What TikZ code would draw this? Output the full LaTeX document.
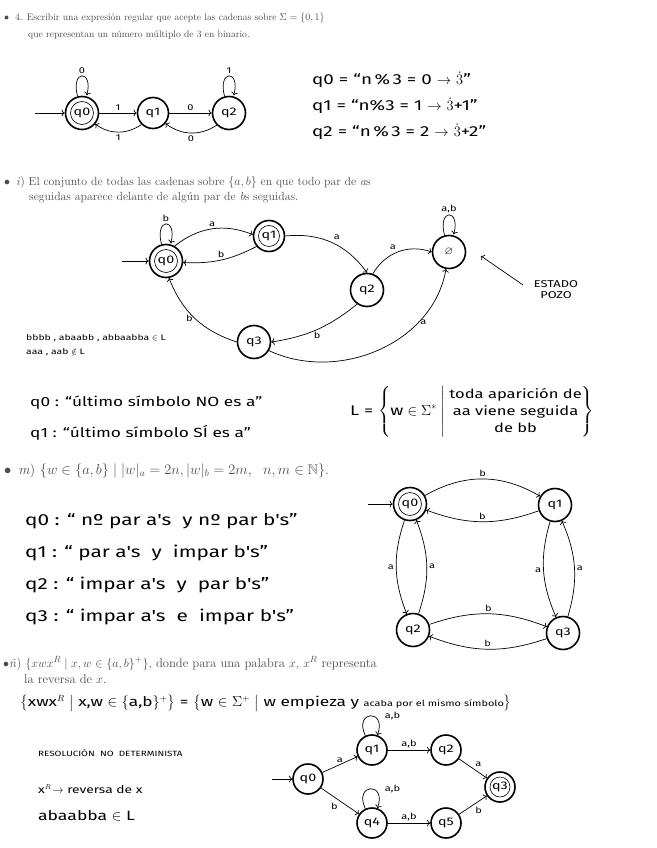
\documentclass[tikz,border=0pt]{standalone}
\usepackage{amsmath,amssymb}
\usepackage{fontspec}
\newfontfamily\mano{Fira Sans}[FakeStretch=1.3]
\usetikzlibrary{arrows.meta}
\tikzset{
  enunciado/.style={anchor=west, inner sep=0pt, align=left, text=black!70,
    font=\fontsize{#1}{#1}\selectfont},
  enunciado/.default=9,
  escrito/.style={anchor=west, inner sep=0pt, font=\mano\fontsize{#1}{#1}\selectfont},
  escrito/.default=14,
  estado/.style={circle, draw, line width=1.6pt, minimum size=33pt, inner sep=0pt,
    font=\mano\fontsize{11}{11}\selectfont},
  final/.style={estado, path picture={\draw[line width=0.6pt]
    (path picture bounding box.center) circle (#1);}},
  final/.default=11.5pt,
  etiq/.style={font=\mano\fontsize{8.5}{8.5}\selectfont, inner sep=2pt},
  arista/.style={->, line width=0.7pt},
}
\begin{document}
\begin{tikzpicture}[x=1pt, y=1pt]
  \useasboundingbox[fill=white] (0,0) rectangle (656,-848);
  % ---------------- apartado 4 ----------------
  \node[enunciado=9.6] (enun4) at (4,-26)
    {$\bullet$\hspace{6pt}4. Escribir una expresión regular que acepte las cadenas sobre $\Sigma=\{0,1\}$\\[7.4pt]
     \hspace{24pt}que representan un número múltiplo de 3 en binario.};
  \node[final] (a0) at (82,-113) {q0};
  \node[estado, minimum size=31pt] (a1) at (153,-113) {q1};
  \node[estado] (a2) at (229,-113) {q2};
  \coordinate (ini4) at (35,-113);
  \draw[arista] (ini4) -- (a0);
  \path[arista] (a0) edge[loop above] node[etiq, above] {0} ();
  \path[arista] (a2) edge[loop above] node[etiq, above] {1} ();
  \draw[arista] (a0) -- node[etiq, above] {1} (a1);
  \draw[arista] (a1) -- node[etiq, above] {0} (a2);
  \draw[arista] (a1.-135) to[bend left=35] node[etiq, below] {1} (a0.-40);
  \draw[arista] (a2.-135) to[bend left=35] node[etiq, below] {0} (a1.-40);
  % significado de los estados
  \node[escrito=14.5] (s40) at (312,-80) {q0 = “n\,\%\,3 = 0 $\rightarrow$ $\dot{3}$”};
  \node[escrito=14.5] (s41) at (312,-106) {q1 = “n\%3 = 1 $\rightarrow$ $\dot{3}$+1”};
  \node[escrito=14.5] (s42) at (312,-132) {q2 = “n\,\%\,3 = 2 $\rightarrow$ $\dot{3}$+2”};
  % ---------------- apartado i ----------------
  \node[enunciado=11.8] (enuni) at (4,-190)
    {$\bullet$\hspace{6pt}\textit{i}) El conjunto de todas las cadenas sobre $\{a,b\}$ en que todo par de \textit{a}s\\[3.2pt]
     \hspace{25pt}seguidas aparece delante de algún par de \textit{b}s seguidas.};
  \node[final] (b0) at (166,-261) {q0};
  \node[final=10.5pt, minimum size=31pt] (b1) at (269,-236) {q1};
  \node[estado] (b2) at (367,-290) {q2};
  \node[estado] (b3) at (254,-342) {q3};
  \node[estado] (bv) at (449,-252) {$\varnothing$};
  \coordinate (inii) at (122,-261);
  \draw[arista] (inii) -- (b0);
  \path[arista] (b0) edge[loop above] node[etiq, above] {b} ();
  \path[arista] (bv) edge[loop above] node[etiq, above] {a,b} ();
  \draw[arista] (b0.60) to[bend left=30] node[etiq, above] {a} (b1.175);
  \draw[arista] (b1.-140) to[bend left=15] node[etiq, above] {b} (b0.-5);
  \draw[arista] (b1.east) to[bend left=30] node[etiq, above right] {a} (b2.north);
  \draw[arista] (b2.70) to[bend left=40] node[etiq, above left] {a} (bv.west);
  \draw[arista] (b2.-125) to[bend left=15] node[etiq, below] {b} (b3.east);
  \draw[arista] (b3.west) to[bend left=25] node[etiq, left] {b} (b0.-80);
  \draw[arista] (b3.-30) to[out=-25, in=-100] node[etiq, pos=0.72, right] {a} (bv.-100);
  % estado pozo
  \node[escrito=9.9, anchor=center, align=center] (pozo) at (556,-290) {ESTADO\\[1pt]POZO};
  \coordinate (pozoa) at (523,-285);
  \coordinate (pozob) at (481,-256);
  \draw[line width=0.7pt, ->] (pozoa) -- (pozob);
  \node[escrito=8, align=left] (ejemplos) at (26,-345)
    {bbbb , abaabb , abbaabba $\in$ L\\[6pt] aaa , aab $\notin$ L};
  \node[escrito=13.3] (si0) at (30,-403) {q0 : “último símbolo NO es a”};
  \node[escrito=13.3] (si1) at (30,-433) {q1 : “último símbolo SÍ es a”};
  \node[escrito=14] (lengi) at (350,-412)
    {L = $\left\{\mbox{w}\in\Sigma^{*}\;\middle|\;\mbox{\fontsize{12.7}{17}\selectfont
      \begin{tabular}{@{}c@{}}toda aparición de\\ aa viene seguida\\ de bb\end{tabular}}\right\}$};
  % ---------------- apartado m ----------------
  \node[enunciado=14] (enunm) at (4,-471)
    {$\bullet$\hspace{7pt}\textit{m}) $\{w\in\{a,b\}\mid |w|_a=2n, |w|_b=2m,\ \ n,m\in\mathbb{N}\}$.};
  \node[escrito=16] (sm0) at (25,-521) {q0 : “ nº par a's \ y nº par b's”};
  \node[escrito=16] (sm1) at (25,-553) {q1 : “ par a's \ y \ impar b's”};
  \node[escrito=16] (sm2) at (25,-585) {q2 : “ impar a's \ y \ par b's”};
  \node[escrito=16] (sm3) at (25,-617) {q3 : “ impar a's \ e \ impar b's”};
  \node[final] (c0) at (410,-504) {q0};
  \node[estado] (c1) at (555,-505) {q1};
  \node[estado] (c2) at (413,-630) {q2};
  \node[estado] (c3) at (563,-633) {q3};
  \coordinate (inim) at (368,-504);
  \draw[arista] (inim) -- (c0);
  \draw[arista] (c0) to[bend left=30] node[etiq, above] {b} (c1);
  \draw[arista] (c1) to[bend left=20] node[etiq, above] {b} (c0);
  \draw[arista] (c0) to[bend right=20] node[etiq, left] {a} (c2);
  \draw[arista] (c2) to[bend right=20] node[etiq, right] {a} (c0);
  \draw[arista] (c1) to[bend right=20] node[etiq, left] {a} (c3);
  \draw[arista] (c3) to[bend right=20] node[etiq, right] {a} (c1);
  \draw[arista] (c2) to[bend left=20] node[etiq, above] {b} (c3);
  \draw[arista] (c3) to[bend left=20] node[etiq, above] {b} (c2);
  % ---------------- apartado ñ ----------------
  \node[enunciado=12.6] (enunn) at (3,-670)
    {$\bullet$\textit{ñ}) $\{xwx^R\mid x,w\in\{a,b\}^{+}\}$, donde para una palabra $x$, $x^R$ representa\\[3.4pt]
     \hspace{21pt}la reversa de $x$.};
  \node[escrito=13.3] (igual) at (20,-703)
    {$\big\{$xwx$^{R}$ $\big|$ x,w $\in$ $\{$a,b$\}^{+}$$\big\}$ = $\big\{$w $\in$ $\Sigma^{+}$ $\big|$ w empieza y {\fontsize{8.4}{8.4}\selectfont acaba por el mismo símbolo}$\big\}$};
  \node[escrito=7.6] (resol) at (38,-753) {RESOLUCIÓN \ NO \ DETERMINISTA};
  \node[escrito=10.6] (rev) at (38,-789) {x$^{R}\!\rightarrow$ reversa de x};
  \node[escrito=13.5] (pal) at (38,-816) {abaabba $\in$ L};
  \node[estado, minimum size=30pt] (d0) at (308,-779) {q0};
  \node[estado, minimum size=30pt] (d1) at (372,-750) {q1};
  \node[estado, minimum size=30pt] (d2) at (446,-750) {q2};
  \node[final=10pt, minimum size=30pt] (d3) at (500,-787) {q3};
  \node[estado, minimum size=30pt] (d4) at (372,-823) {q4};
  \node[estado, minimum size=30pt] (d5) at (446,-823) {q5};
  \coordinate (inin) at (272,-779);
  \draw[arista] (inin) -- (d0);
  \path[arista] (d1) edge[out=115, in=70, looseness=6] node[etiq, pos=0.5, right=12pt] {a,b} (d1);
  \path[arista] (d4) edge[out=115, in=70, looseness=6] node[etiq, pos=0.5, right=12pt] {a,b} (d4);
  \draw[arista] (d0) -- node[etiq, above] {a} (d1);
  \draw[arista] (d0) -- node[etiq, below left] {b} (d4);
  \draw[arista] (d1) -- node[etiq, above] {a,b} (d2);
  \draw[arista] (d2) -- node[etiq, above right] {a} (d3);
  \draw[arista] (d4) -- node[etiq, above] {a,b} (d5);
  \draw[arista] (d5) -- node[etiq, below right] {b} (d3);
\end{tikzpicture}
\end{document}
